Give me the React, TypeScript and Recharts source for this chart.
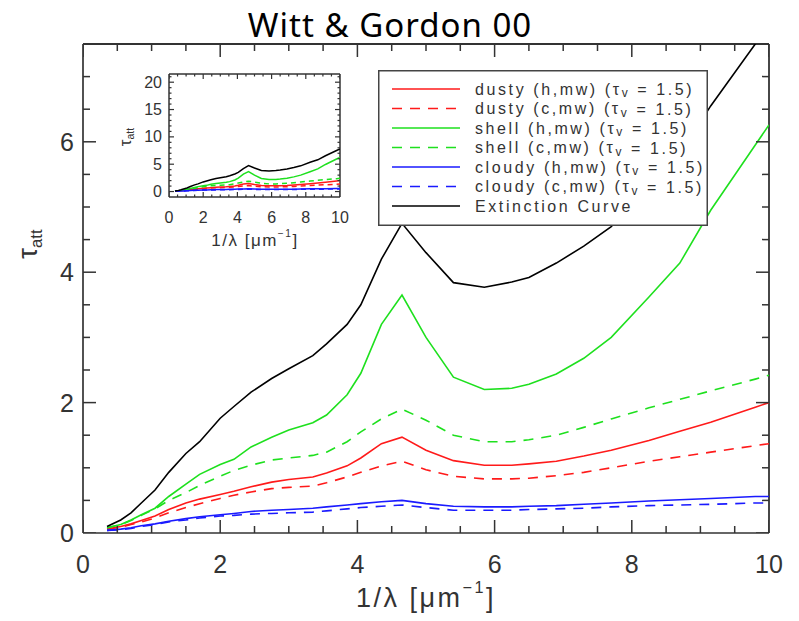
import React from "react";
import { ComposedChart, Line, Scatter, XAxis, YAxis, Legend, Label, ReferenceLine } from "recharts";

// 1/lambda grid [um^-1]
const invLambda = [0.35, 0.55, 0.7, 0.85, 1.05, 1.25, 1.5, 1.7, 2.0, 2.2, 2.45, 2.75, 3.0, 3.35, 3.55, 3.85, 4.05, 4.35, 4.65, 5.0, 5.4, 5.85, 6.25, 6.5, 6.9, 7.3, 7.7, 8.25, 8.7, 9.15, 9.8, 10];

const dustyHot = [0.06, 0.1, 0.14, 0.19, 0.26, 0.36, 0.46, 0.52, 0.59, 0.64, 0.71, 0.78, 0.82, 0.86, 0.92, 1.03, 1.15, 1.37, 1.47, 1.27, 1.11, 1.04, 1.04, 1.06, 1.1, 1.18, 1.27, 1.42, 1.56, 1.7, 1.93, 2.0];
const dustyClumpy = [0.06, 0.09, 0.13, 0.17, 0.23, 0.31, 0.39, 0.45, 0.53, 0.58, 0.63, 0.68, 0.7, 0.72, 0.77, 0.86, 0.93, 1.03, 1.1, 0.97, 0.87, 0.83, 0.83, 0.84, 0.88, 0.93, 1.0, 1.1, 1.17, 1.24, 1.34, 1.37];
const shellHot = [0.08, 0.13, 0.2, 0.28, 0.38, 0.56, 0.75, 0.9, 1.05, 1.13, 1.32, 1.47, 1.58, 1.69, 1.81, 2.12, 2.45, 3.2, 3.65, 3.0, 2.39, 2.2, 2.22, 2.28, 2.44, 2.68, 3.0, 3.62, 4.14, 4.95, 5.95, 6.26];
const shellClumpy = [0.08, 0.13, 0.19, 0.27, 0.37, 0.5, 0.62, 0.73, 0.87, 0.96, 1.04, 1.12, 1.15, 1.19, 1.24, 1.4, 1.55, 1.75, 1.9, 1.73, 1.5, 1.4, 1.4, 1.43, 1.5, 1.62, 1.75, 1.92, 2.05, 2.18, 2.36, 2.42];
const cloudyHot = [0.04, 0.06, 0.08, 0.11, 0.14, 0.18, 0.22, 0.25, 0.28, 0.3, 0.33, 0.35, 0.36, 0.38, 0.4, 0.43, 0.45, 0.48, 0.5, 0.45, 0.41, 0.4, 0.4, 0.41, 0.42, 0.44, 0.46, 0.49, 0.51, 0.53, 0.56, 0.56];
const cloudyClumpy = [0.04, 0.05, 0.07, 0.1, 0.13, 0.17, 0.2, 0.23, 0.26, 0.27, 0.29, 0.3, 0.31, 0.32, 0.34, 0.37, 0.39, 0.41, 0.43, 0.39, 0.35, 0.35, 0.35, 0.36, 0.37, 0.38, 0.4, 0.42, 0.43, 0.44, 0.46, 0.46];
const extinction = [0.1, 0.2, 0.31, 0.46, 0.66, 0.93, 1.22, 1.4, 1.76, 1.94, 2.16, 2.37, 2.52, 2.72, 2.9, 3.2, 3.5, 4.2, 4.75, 4.3, 3.84, 3.77, 3.85, 3.92, 4.14, 4.4, 4.7, 5.36, 5.8, 6.55, 7.5, 7.8];

const xTicks = [0, 0.5, 1, 1.5, 2, 2.5, 3, 3.5, 4, 4.5, 5, 5.5, 6, 6.5, 7, 7.5, 8, 8.5, 9, 9.5, 10];
const xMajor = [0, 2, 4, 6, 8, 10];
const mainYTicks = [0, 0.5, 1, 1.5, 2, 2.5, 3, 3.5, 4, 4.5, 5, 5.5, 6, 6.5, 7];
const mainYMajor = [0, 2, 4, 6];
const insetYTicks = [0, 1, 2, 3, 4, 5, 6, 7, 8, 9, 10, 11, 12, 13, 14, 15, 16, 17, 18, 19, 20, 21];
const insetYMajor = [0, 5, 10, 15, 20];

const RED = "#ff1a1a";
const GREEN = "#1ee01e";
const BLUE = "#1a1aff";
const DASH = "10 8";
const AXIS = "#333333";
const FONT = "'Liberation Sans', Arial, sans-serif";

const series = [
  { key: "dustyH", name: "dusty (h,mw)", values: dustyHot, color: RED, dash: undefined as string | undefined, tau: true },
  { key: "dustyC", name: "dusty (c,mw)", values: dustyClumpy, color: RED, dash: DASH, tau: true },
  { key: "shellH", name: "shell (h,mw)", values: shellHot, color: GREEN, dash: undefined, tau: true },
  { key: "shellC", name: "shell (c,mw)", values: shellClumpy, color: GREEN, dash: DASH, tau: true },
  { key: "cloudyH", name: "cloudy (h,mw)", values: cloudyHot, color: BLUE, dash: undefined, tau: true },
  { key: "cloudyC", name: "cloudy (c,mw)", values: cloudyClumpy, color: BLUE, dash: DASH, tau: true },
  { key: "ext", name: "Extinction Curve", values: extinction, color: "#000000", dash: undefined, tau: false },
];

const data = invLambda.map((x, i) => {
  const row: Record<string, number> = { x };
  series.forEach((s) => (row[s.key] = s.values[i]));
  return row;
});

const isIn = (arr: number[], v: number) => arr.some((m) => Math.abs(m - v) < 1e-9);

// tick labels only on major values
function labelTick(side: "bottom" | "left", majors: number[], fontSize: number, gap: number) {
  return (props: any) => {
    const { x, y, payload } = props;
    const v = payload.value;
    if (!isIn(majors, v)) return <g />;
    return side === "bottom" ? (
      <text x={x} y={y + gap} textAnchor="middle" dominantBaseline="central" fontSize={fontSize} fill="#333" fontFamily={FONT}>
        {v}
      </text>
    ) : (
      <text x={x - gap} y={y} textAnchor="end" dominantBaseline="central" fontSize={fontSize} fill="#333" fontFamily={FONT}>
        {v}
      </text>
    );
  };
}

type Side = "bottom" | "top" | "left" | "right";

// inward IDL-style tick mark placed by the scatter scales
function tickShape(side: Side, majorLen: number, minorLen: number, sw: number) {
  return (p: any) => {
    const { cx, cy, payload } = p;
    if (cx == null || cy == null) return <g />;
    const len = payload.major ? majorLen : minorLen;
    let x2 = cx;
    let y2 = cy;
    if (side === "bottom") y2 = cy - len;
    if (side === "top") y2 = cy + len;
    if (side === "left") x2 = cx + len;
    if (side === "right") x2 = cx - len;
    return <line x1={cx} y1={cy} x2={x2} y2={y2} stroke={AXIS} strokeWidth={sw} />;
  };
}

function frame(xDom: [number, number], yDom: [number, number], xt: number[], xm: number[], yt: number[], ym: number[], majorLen: number, minorLen: number, sw: number) {
  const sides: { side: Side; pts: { x: number; ty: number; major: boolean }[] }[] = [
    { side: "bottom", pts: xt.map((v) => ({ x: v, ty: yDom[0], major: isIn(xm, v) })) },
    { side: "top", pts: xt.map((v) => ({ x: v, ty: yDom[1], major: isIn(xm, v) })) },
    { side: "left", pts: yt.map((v) => ({ x: xDom[0], ty: v, major: isIn(ym, v) })) },
    { side: "right", pts: yt.map((v) => ({ x: xDom[1], ty: v, major: isIn(ym, v) })) },
  ];
  return [
    ...sides.map((s) => (
      <Scatter key={s.side} xAxisId="b" yAxisId="l" data={s.pts} dataKey="ty" isAnimationActive={false} shape={tickShape(s.side, majorLen, minorLen, sw)} />
    )),
    <ReferenceLine key="top" xAxisId="b" yAxisId="l" y={yDom[1]} stroke={AXIS} strokeWidth={sw + 0.3} ifOverflow="visible" />,
    <ReferenceLine key="right" xAxisId="b" yAxisId="l" x={xDom[1]} stroke={AXIS} strokeWidth={sw + 0.3} ifOverflow="visible" />,
  ];
}

const LegendBox = () => (
  <svg width={330} height={156} style={{ display: "block" }}>
    <rect x={0.75} y={0.75} width={328.5} height={154.5} fill="#fff" stroke="#444" strokeWidth={1.5} />
    {series.map((s, i) => {
      const cy = 19 + i * 19.5;
      return (
        <g key={s.key}>
          <line x1={14} y1={cy} x2={82} y2={cy} stroke={s.color} strokeWidth={1.5} strokeDasharray={s.dash} />
          <text x={97} y={cy} dominantBaseline="central" fontSize={16} fill="#333" fontFamily={FONT} letterSpacing={2.6}>
            {s.name}
            {s.tau ? (
              <>
                {" ("}τ<tspan fontSize={12} dy={4}>v</tspan>
                <tspan dy={-4}>{" = 1.5)"}</tspan>
              </>
            ) : null}
          </text>
        </g>
      );
    })}
  </svg>
);

const XTitle = (size: number, cx: number, cy: number, spacing: number) => (
  <text x={cx} y={cy} textAnchor="middle" dominantBaseline="central" fontSize={size} fill="#333" fontFamily={FONT} letterSpacing={spacing}>
    1/λ [μm<tspan fontSize={size * 0.6} dy={-size * 0.4}>−1</tspan>
    <tspan dy={size * 0.4}>]</tspan>
  </text>
);

const YTitle = (size: number, cx: number, cy: number) => (
  <text x={cx} y={cy} textAnchor="middle" dominantBaseline="central" transform={`rotate(-90 ${cx} ${cy})`} fontSize={size} fill="#333" fontFamily={FONT}>
    τ<tspan fontSize={size * 0.62} dy={size * 0.3}>att</tspan>
  </text>
);

function MainChart() {
  const xDom: [number, number] = [0, 10];
  const yDom: [number, number] = [0, 7.5];
  return (
    <ComposedChart width={799} height={621} data={data} margin={{ top: 44, right: 30, bottom: 0, left: 0 }}>
      <XAxis xAxisId="b" dataKey="x" type="number" domain={xDom} allowDataOverflow ticks={xTicks} interval={0} orientation="bottom" height={88} tickSize={0} tickMargin={0} tickLine={false} axisLine={{ stroke: AXIS, strokeWidth: 1.7 }} tick={labelTick("bottom", xMajor, 25, 31)}>
        <Label content={() => XTitle(27, 426, 598, 2.5)} />
      </XAxis>
      <YAxis yAxisId="l" type="number" domain={yDom} allowDataOverflow ticks={mainYTicks} interval={0} orientation="left" width={83} tickSize={0} tickMargin={0} tickLine={false} axisLine={{ stroke: AXIS, strokeWidth: 1.7 }} tick={labelTick("left", mainYMajor, 25, 9)}>
        <Label content={() => YTitle(27, 28, 244)} />
      </YAxis>
      {frame(xDom, yDom, xTicks, xMajor, mainYTicks, mainYMajor, 13, 7, 1.5)}
      {series.map((s) => (
        <Line key={s.key} xAxisId="b" yAxisId="l" dataKey={s.key} name={s.name} stroke={s.color} strokeWidth={1.6} strokeDasharray={s.dash} dot={false} activeDot={false} type="linear" isAnimationActive={false} />
      ))}
      <Legend layout="vertical" align="center" verticalAlign="middle" content={() => <LegendBox />} wrapperStyle={{ position: "absolute", left: 378, top: 70, width: 330, height: 156 }} />
    </ComposedChart>
  );
}

function InsetChart() {
  const xDom: [number, number] = [0, 10];
  const yDom: [number, number] = [-1, 21.5];
  return (
    <ComposedChart width={250} height={200} data={data} margin={{ top: 14, right: 10, bottom: 0, left: 0 }}>
      <XAxis xAxisId="b" dataKey="x" type="number" domain={xDom} allowDataOverflow ticks={xTicks} interval={0} orientation="bottom" height={63} tickSize={0} tickMargin={0} tickLine={false} axisLine={{ stroke: AXIS, strokeWidth: 1.5 }} tick={labelTick("bottom", xMajor, 16, 20)}>
        <Label content={() => XTitle(17, 155, 180, 1.5)} />
      </XAxis>
      <YAxis yAxisId="l" type="number" domain={yDom} allowDataOverflow ticks={insetYTicks} interval={0} orientation="left" width={69} tickSize={0} tickMargin={0} tickLine={false} axisLine={{ stroke: AXIS, strokeWidth: 1.5 }} tick={labelTick("left", insetYMajor, 16, 7)}>
        <Label content={() => YTitle(17, 25, 77)} />
      </YAxis>
      {frame(xDom, yDom, xTicks, xMajor, insetYTicks, insetYMajor, 5, 2.5, 1.2)}
      {series.map((s) => (
        <Line key={s.key} xAxisId="b" yAxisId="l" dataKey={s.key} stroke={s.color} strokeWidth={1.5} strokeDasharray={s.dash ? "5 4" : undefined} dot={false} activeDot={false} type="linear" isAnimationActive={false} />
      ))}
    </ComposedChart>
  );
}

export default function App() {
  return (
    <div style={{ position: "absolute", left: 0, top: 0, width: 799, height: 621, background: "#fff" }}>
      <div style={{ position: "absolute", left: 190, top: 2, width: 400, textAlign: "center", fontFamily: "'Noto Sans', 'Open Sans', sans-serif", fontSize: 33, letterSpacing: 1, lineHeight: "46px", color: "#000" }}>
        Witt &amp; Gordon 00
      </div>
      <div style={{ position: "absolute", left: 0, top: 0 }}>
        <MainChart />
      </div>
      <div style={{ position: "absolute", left: 100, top: 60 }}>
        <InsetChart />
      </div>
    </div>
  );
}
